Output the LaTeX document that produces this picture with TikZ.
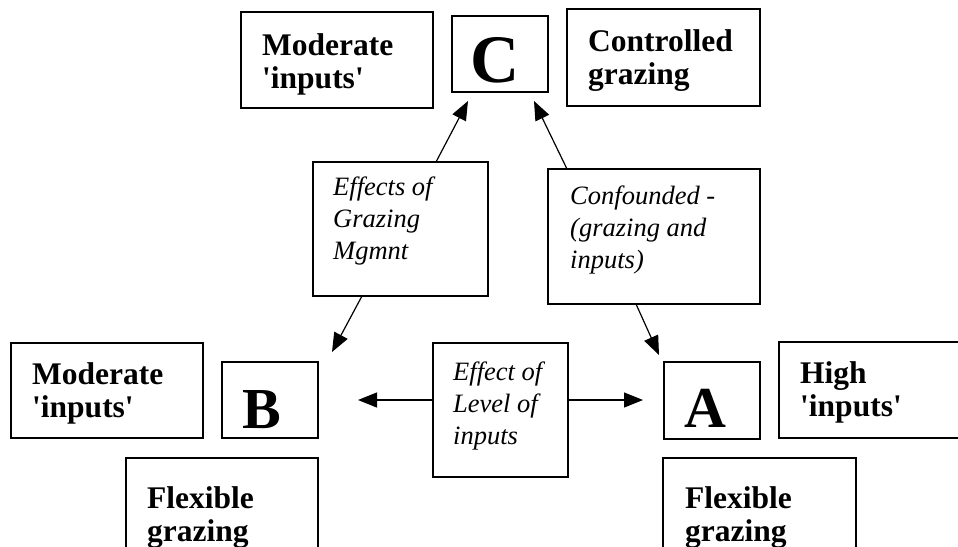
\documentclass[tikz,border=0pt]{standalone}
\usepackage{fontspec}
\setmainfont{Liberation Serif}
\usetikzlibrary{arrows.meta}
\newcommand\txtlines[1]{\vtop{\halign{##\hfil\cr#1\crcr}}}
\newcommand\sq{\textquotesingle}
\tikzset{
  bx/.style={draw, line width=1.4pt, anchor=north west, inner sep=0pt, outer sep=0pt},
  bt/.style={font=\bfseries\fontsize{31.5}{33}\selectfont, anchor=base west, inner sep=0pt},
  it/.style={font=\itshape\fontsize{26.5}{32}\selectfont, anchor=base west, inner sep=0pt},
  bigl/.style={font=\bfseries\fontsize{#1}{#1}\selectfont, anchor=base, inner sep=0pt},
  arr/.style={line width=1.2pt, -{Triangle[length=19pt,width=15pt]}}
}
\begin{document}
\begin{tikzpicture}[x=1pt,y=-1pt]
\useasboundingbox (0,0) rectangle (958,546);
\fill[white] (0,0) rectangle (958,546);
\clip (0,0) rectangle (958,546);
% boxes
\node[bx, minimum width=192pt, minimum height=96pt] (mt) at (241,12) {};
\node[bx, minimum width=96pt, minimum height=76pt] (c) at (452,16) {};
\node[bx, minimum width=193pt, minimum height=97pt] (cg) at (567,9) {};
\node[bx, minimum width=175pt, minimum height=134pt] (eg) at (313,162) {};
\node[bx, minimum width=212pt, minimum height=135pt] (cf) at (548,169) {};
\node[bx, minimum width=192pt, minimum height=95pt] (mb) at (11,343) {};
\node[bx, minimum width=96pt, minimum height=76pt] (b) at (222,362) {};
\node[bx, minimum width=135pt, minimum height=134pt] (el) at (433,343) {};
\node[bx, minimum width=96pt, minimum height=77pt] (a) at (664,362) {};
\node[bx, minimum width=200pt, minimum height=96pt] (hi) at (779,342) {};
\node[bx, minimum width=192pt, minimum height=110pt] (fl) at (126,458) {};
\node[bx, minimum width=193pt, minimum height=110pt] (fr) at (663,458) {};
% texts
\node[bt] (tmt) at (262,55) {\txtlines{Moderate\cr \sq inputs\sq}};
\node[bt] (tcg) at (588,51) {\txtlines{Controlled\cr grazing}};
\node[it] (teg) at (333,195) {\txtlines{Effects of\cr Grazing\cr Mgmnt}};
\node[it] (tcf) at (570,204) {\txtlines{Confounded -\cr (grazing and\cr inputs)}};
\node[bt] (tmb) at (32,384) {\txtlines{Moderate\cr \sq inputs\sq}};
\node[it] (tel) at (453,380) {\txtlines{Effect of\cr Level of\cr inputs}};
\node[bt] (thi) at (800,383) {\txtlines{High\cr \sq inputs\sq}};
\node[bt] (tfl) at (147,508) {\txtlines{Flexible\cr grazing}};
\node[bt] (tfr) at (685,508) {\txtlines{Flexible\cr grazing}};
\node[bigl=68] (lc) at (495,82) {C};
\node[bigl=58] (lb) at (262,428) {B};
\node[bigl=58] (la) at (705,427) {A};
% arrow tips
\coordinate (tc1) at (468,101);
\coordinate (tc2) at (534,101);
\coordinate (tb1) at (332,352);
\coordinate (ta1) at (659,355);
\coordinate (tb2) at (358,400);
\coordinate (ta2) at (643,400);
% arrows
\draw[arr] ([xshift=123pt]eg.north west) -- (tc1);
\draw[arr] ([xshift=49pt]eg.south west) -- (tb1);
\draw[arr] ([xshift=19pt]cf.north west) -- (tc2);
\draw[arr] ([xshift=88pt]cf.south west) -- (ta1);
\draw[arr] (el.west |- tb2) -- (tb2);
\draw[arr] (el.east |- ta2) -- (ta2);
\end{tikzpicture}
\end{document}
